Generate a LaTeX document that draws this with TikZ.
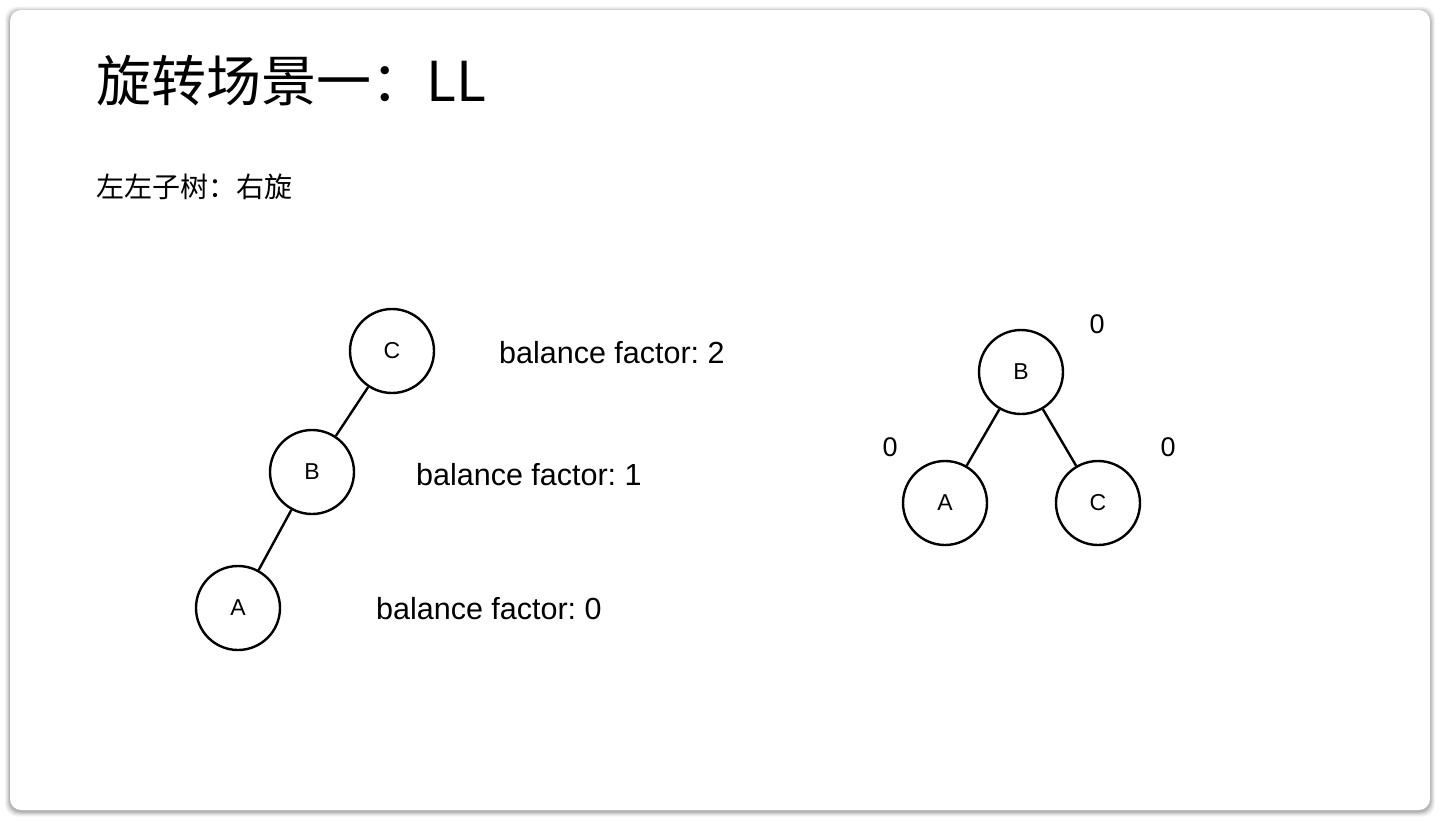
\documentclass[tikz,border=0pt]{standalone}
\usepackage{fontspec}
\setmainfont{Liberation Sans}
\newfontfamily\cjk{Noto Sans CJK SC}
\frenchspacing
\begin{document}
\begin{tikzpicture}[x=1pt,y=-1pt,
  tnode/.style={circle,draw=black,line width=2.4pt,minimum size=84pt,inner sep=0pt,font=\fontsize{23}{27}\selectfont},
  edge/.style={line width=2.4pt},
  bf/.style={anchor=base west,inner sep=0pt,font=\fontsize{30.5}{34}\selectfont},
  zero/.style={inner sep=0pt,font=\fontsize{27}{30}\selectfont}]
\useasboundingbox (0,0) rectangle (1440,820);
\fill[white] (0,0) rectangle (1440,820);
% shadow
\foreach \d/\o in {5/0.04,4/0.05,3/0.06,2/0.08,1/0.10}{
  \fill[black,opacity=\o,rounded corners=12pt] (10-\d,10-\d+1.5) rectangle (1430+\d,810+\d+1.5);
}
\fill[white,rounded corners=11pt] (10,10) rectangle (1430,810);
% titles
\node[anchor=base west,inner sep=0pt,font=\cjk\fontsize{55}{60}\selectfont] (title) at (96,101) {旋转场景一：LL};
\node[anchor=base west,inner sep=0pt,font=\cjk\fontsize{28}{32}\selectfont] (sub) at (96,197) {左左子树：右旋};
% left tree
\node[tnode] (lC) at (392,351) {C};
\node[tnode] (lB) at (312,472) {B};
\node[tnode] (lA) at (238,608) {A};
\draw[edge] (lC) -- (lB);
\draw[edge] (lB) -- (lA);
\node[bf] (bf2) at (499,363) {balance factor: 2};
\node[bf] (bf1) at (416,485) {balance factor: 1};
\node[bf] (bf0) at (376,619) {balance factor: 0};
% right tree
\node[tnode] (rB) at (1021,372) {B};
\node[tnode] (rA) at (945,503) {A};
\node[tnode] (rC) at (1098,503) {C};
\draw[edge] (rB) -- (rA);
\draw[edge] (rB) -- (rC);
\node[zero] (z1) at (1097,324) {0};
\node[zero] (z2) at (890,447) {0};
\node[zero] (z3) at (1168,447) {0};
\end{tikzpicture}
\end{document}
